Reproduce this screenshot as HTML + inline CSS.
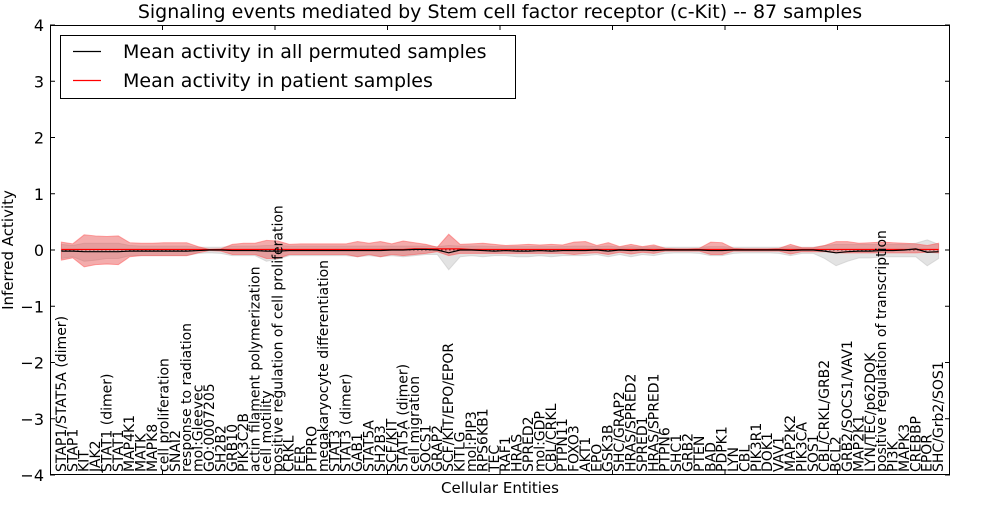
<!DOCTYPE html>
<html><head><meta charset="utf-8"><style>
body{margin:0;background:#fff}
svg{font-family:"DejaVu Sans","Liberation Sans",sans-serif}
</style></head><body>
<svg id="chart" width="1000" height="500" xmlns="http://www.w3.org/2000/svg">
<rect width="1000" height="500" fill="#fff"/>
<text x="500" y="18" font-size="19" text-anchor="middle">Signaling events mediated by Stem cell factor receptor (c-Kit) -- 87 samples</text>
<g id="plot"></g>
<g id="yaxis"></g>
<g id="xlabels"></g>
<rect x="50.5" y="25.5" width="899" height="449" fill="none" stroke="#000" stroke-width="1"/>
<text x="500" y="493" font-size="15" text-anchor="middle">Cellular Entities</text>
<text transform="translate(13,250) rotate(-90)" font-size="15" text-anchor="middle">Inferred Activity</text>
<g>
<rect x="60.5" y="35.5" width="455" height="63" fill="#fff" stroke="#000" stroke-width="1"/>
<line x1="73" y1="51.5" x2="101" y2="51.5" stroke="#000" stroke-width="1.2"/>
<text x="123" y="58" font-size="19">Mean activity in all permuted samples</text>
<line x1="73" y1="80.5" x2="101" y2="80.5" stroke="#f00" stroke-width="1.2"/>
<text x="123" y="87" font-size="19">Mean activity in patient samples</text>
</g>
</svg>
<script>
const categories=["STAP1/STAT5A (dimer)","STAP1","KIT","JAK2","STAT1 (dimer)","STAT1","MAP4K1","MATK","MAPK8","cell proliferation","SNAI2","response to radiation","mol:Gleevec","GO:0007205","SH2B2","GRB10","PIK3C2B","actin filament polymerization","cell motility","positive regulation of cell proliferation","CRKL","FER","PTPRO","megakaryocyte differentiation","STAT3","STAT3 (dimer)","GAB1","STAT5A","SH2B3","SCF/KIT","STAT5A (dimer)","cell migration","SOCS1","GRAP2","SCF/KIT/EPO/EPOR","KITLG","mol:PIP3","RPS6KB1","TEC","RAF1","HRAS","SPRED2","mol:GDP","CBL/CRKL","PTPN11","FOXO3","AKT1","EPO","GSK3B","SHC/GRAP2","HRAS/SPRED2","SPRED1","HRAS/SPRED1","PTPN6","SHC1","GRB2","PTEN","BAD","PDPK1","LYN","CBL","PIK3R1","DOK1","VAV1","MAP2K2","PIK3CA","SOS1","CBL/CRKL/GRB2","BCL2","GRB2/SOCS1/VAV1","MAP2K1","LYN/TEC/p62DOK","positive regulation of transcription","PI3K","MAPK3","CREBBP","EPOR","SHC/Grb2/SOS1"];
const redUp=[0.14,0.11,0.27,0.25,0.24,0.25,0.13,0.12,0.12,0.13,0.13,0.13,0.06,0.01,0.02,0.1,0.12,0.12,0.17,0.16,0.1,0.11,0.11,0.11,0.11,0.11,0.15,0.12,0.15,0.11,0.16,0.13,0.1,0.05,0.28,0.1,0.11,0.12,0.1,0.08,0.09,0.1,0.09,0.1,0.09,0.14,0.15,0.08,0.13,0.06,0.1,0.06,0.09,0.03,0.02,0.02,0.03,0.14,0.13,0.03,0.02,0.02,0.02,0.03,0.1,0.04,0.04,0.08,0.15,0.15,0.12,0.13,0.14,0.13,0.12,0.11,0.08,0.12];
const redLo=[-0.18,-0.14,-0.3,-0.26,-0.25,-0.26,-0.12,-0.1,-0.1,-0.1,-0.1,-0.1,-0.05,-0.01,-0.02,-0.08,-0.08,-0.08,-0.15,-0.15,-0.08,-0.08,-0.08,-0.08,-0.08,-0.08,-0.12,-0.08,-0.12,-0.08,-0.1,-0.08,-0.06,-0.03,-0.1,-0.06,-0.06,-0.06,-0.06,-0.06,-0.06,-0.06,-0.06,-0.06,-0.06,-0.08,-0.06,-0.05,-0.08,-0.04,-0.07,-0.04,-0.06,-0.02,-0.02,-0.02,-0.02,-0.08,-0.08,-0.02,-0.02,-0.02,-0.02,-0.02,-0.07,-0.03,-0.03,-0.03,-0.05,-0.05,-0.05,-0.05,-0.05,-0.05,-0.05,-0.05,-0.04,-0.05];
const greyUp=[0.1,0.08,0.12,0.12,0.12,0.12,0.08,0.07,0.07,0.07,0.07,0.07,0.05,0.05,0.05,0.07,0.07,0.07,0.08,0.08,0.07,0.07,0.07,0.07,0.07,0.07,0.07,0.07,0.07,0.07,0.07,0.07,0.07,0.06,0.08,0.07,0.07,0.07,0.06,0.06,0.06,0.06,0.06,0.06,0.06,0.07,0.07,0.06,0.07,0.05,0.06,0.05,0.06,0.05,0.05,0.05,0.05,0.06,0.06,0.05,0.05,0.05,0.05,0.05,0.06,0.05,0.05,0.08,0.1,0.1,0.1,0.1,0.1,0.1,0.1,0.12,0.18,0.1];
const greyLo=[-0.15,-0.12,-0.2,-0.18,-0.15,-0.15,-0.1,-0.1,-0.1,-0.1,-0.1,-0.1,-0.06,-0.05,-0.06,-0.1,-0.1,-0.1,-0.2,-0.16,-0.1,-0.1,-0.1,-0.1,-0.1,-0.1,-0.12,-0.1,-0.12,-0.1,-0.12,-0.1,-0.08,-0.08,-0.35,-0.12,-0.1,-0.12,-0.1,-0.1,-0.12,-0.12,-0.1,-0.12,-0.1,-0.1,-0.1,-0.08,-0.12,-0.08,-0.12,-0.08,-0.1,-0.06,-0.05,-0.05,-0.06,-0.1,-0.1,-0.06,-0.05,-0.05,-0.05,-0.06,-0.1,-0.06,-0.06,-0.15,-0.28,-0.2,-0.14,-0.14,-0.12,-0.12,-0.12,-0.12,-0.28,-0.15];
const patientMean=[0.01,0.01,0.01,0.01,0.01,0.01,0.01,0.01,0.01,0.01,0.01,0.01,0.01,0.01,0.01,0.01,0.01,0.01,0.01,0.01,0.01,0.01,0.01,0.01,0.01,0.01,0.01,0.01,0.01,0.01,0.01,0.02,0.02,0.02,0.02,0.02,0.01,0.01,0.01,0.01,0.01,0.01,0.01,0.01,0.01,0.01,0.01,0.01,0.01,0.01,0.01,0.01,0.01,0.01,0.01,0.01,0.01,0.01,0.01,0.01,0.01,0.01,0.01,0.01,0.01,0.01,0.01,0.01,0.01,0.01,0.01,0.01,0.01,0.01,0.01,0.01,0.01,0.01];
const permMean=[-0.02,-0.02,-0.03,-0.03,-0.03,-0.03,-0.02,-0.02,-0.02,-0.02,-0.02,-0.02,-0.01,0.0,0.0,-0.01,-0.01,-0.01,-0.02,-0.02,-0.01,-0.01,-0.01,-0.01,-0.01,-0.01,-0.01,-0.01,-0.01,0.0,0.0,0.01,0.01,0.0,-0.05,0.0,0.0,-0.01,-0.02,-0.01,-0.02,-0.02,-0.01,-0.02,-0.01,-0.01,-0.01,0.0,-0.02,0.0,-0.01,0.0,-0.01,0.0,0.0,0.0,0.0,-0.01,-0.01,0.0,0.0,0.0,0.0,0.0,-0.01,0.0,0.0,-0.02,-0.05,-0.03,-0.02,-0.02,-0.01,-0.01,0.0,0.02,-0.04,-0.03];
const yTicks=[-4,-3,-2,-1,0,1,2,3,4];
const NS="http://www.w3.org/2000/svg";
const X0=50,X1=950,Y0=25,Y1=475;
function xs(i){return X0+(i+1)*(X1-X0)/(categories.length+1);}
function ys(v){return Y0+(4-v)*(Y1-Y0)/8;}
function mk(tag,attrs,parent){const e=document.createElementNS(NS,tag);for(const k in attrs)e.setAttribute(k,attrs[k]);parent.appendChild(e);return e;}
const plot=document.getElementById('plot');
function band(up,lo,fill,stroke,name){
 let d='M'+up.map((v,i)=>xs(i)+','+ys(v)).join('L');
 for(let i=lo.length-1;i>=0;i--)d+='L'+xs(i)+','+ys(lo[i]);
 const p=mk('path',{d:d+'Z',fill:fill,stroke:stroke,'stroke-width':1},plot);
 
 
}
band(greyUp,greyLo,'rgba(200,200,200,0.5)','rgba(200,200,200,0.6)','permuted-std-band');
band(redUp,redLo,'rgba(230,70,70,0.45)','rgba(255,80,80,0.5)','patient-std-band');
const zl=mk('line',{x1:xs(0),x2:xs(categories.length-1),y1:ys(0),y2:ys(0),stroke:'#000','stroke-width':1,'stroke-dasharray':'1,3'},plot);


function line(vals,color,name){
 const p=mk('polyline',{points:vals.map((v,i)=>xs(i)+','+ys(v)).join(' '),fill:'none',stroke:color,'stroke-width':1.2},plot);
 
 
}
line(patientMean,'#f00','patient-mean-line');
line(permMean,'#000','permuted-mean-line');
const ya=document.getElementById('yaxis');
yTicks.forEach(v=>{
 const y=ys(v);
 mk('line',{x1:X0,x2:X0+5,y1:y,y2:y,stroke:'#000'},ya);
 mk('line',{x1:X1-5,x2:X1,y1:y,y2:y,stroke:'#000'},ya);
 const t=mk('text',{x:X0-6,y:y+6,'font-size':16,'text-anchor':'end'},ya);
 t.textContent=v<0?'\u2212'+Math.abs(v):String(v);
 
 
});
for(let k=1;k<8;k++){const x=X0+112.5*k;mk('line',{x1:x,x2:x,y1:Y0,y2:Y0+5,stroke:'#000'},ya);mk('line',{x1:x,x2:x,y1:Y1-5,y2:Y1,stroke:'#000'},ya);}
const xl=document.getElementById('xlabels');
categories.forEach((c,i)=>{
 const x=xs(i)+4.5;
 const t=mk('text',{transform:'translate('+x+',472) rotate(-90)','font-size':14},xl);
 t.textContent=c;
 
 
});
</script>
</body></html>
